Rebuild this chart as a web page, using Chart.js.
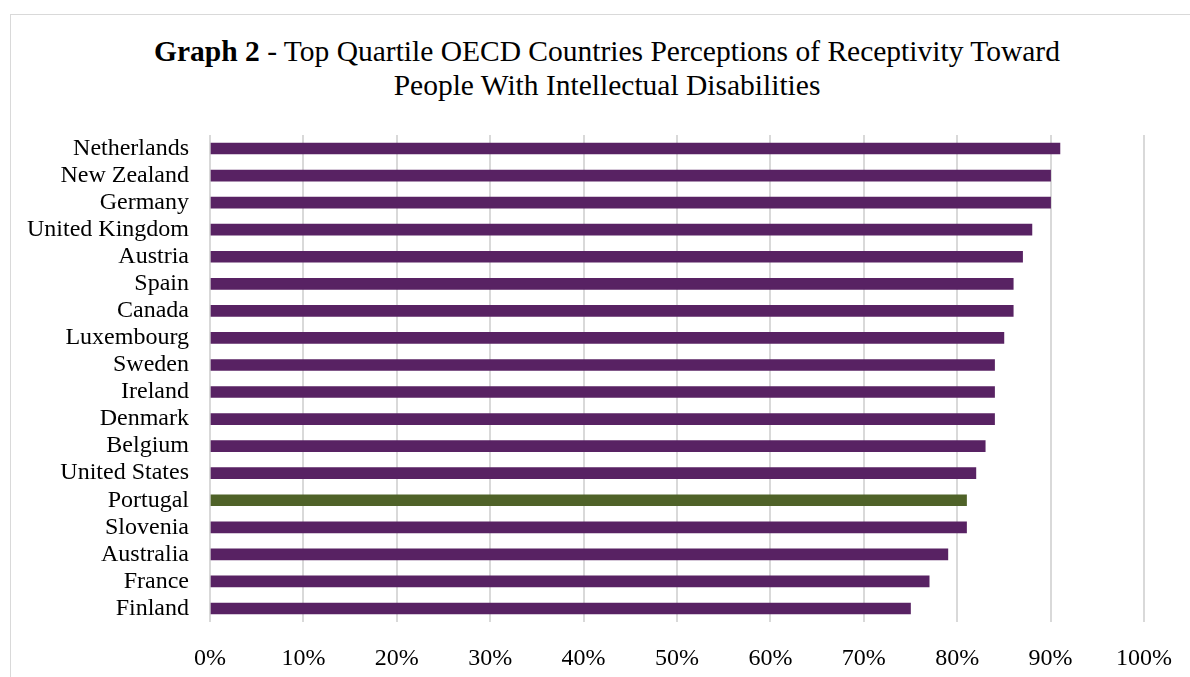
<!DOCTYPE html>
<html>
<head>
<meta charset="utf-8">
<script src="https://cdn.jsdelivr.net/npm/chart.js@4/dist/chart.umd.min.js"></script>
<style>
  body { margin: 0; background: #fff; }
  #wrap { position: relative; width: 1190px; height: 677px; overflow: hidden; }
  #frame { position: absolute; left: 10px; top: 14px; width: 1200px; height: 700px; border: 1px solid #d9d9d9; box-sizing: border-box; }
  #title {
    position: absolute; left: 0; top: 34px; width: 1214px; text-align: center;
    font-family: "Liberation Serif", "Times New Roman", serif; font-size: 29.5px; line-height: 34px; color: #000;
  }
  #myChart { position: absolute; left: 0; top: 0; }
</style>
</head>
<body>
<div id="wrap">
  <div id="frame"></div>
  <div id="title"><b>Graph 2</b> - Top Quartile OECD Countries Perceptions of Receptivity Toward<br>People With Intellectual Disabilities</div>
  <canvas id="myChart" width="1190" height="677"></canvas>
</div>
<script>
const countries = [
    "Netherlands", "New Zealand", "Germany", "United Kingdom", "Austria", "Spain",
    "Canada", "Luxembourg", "Sweden", "Ireland", "Denmark", "Belgium",
    "United States", "Portugal", "Slovenia", "Australia", "France", "Finland"
]

const receptivity = [91, 90, 90, 88, 87, 86, 86, 85, 84, 84, 84, 83, 82, 81, 81, 79, 77, 75]

const xTicks = [0, 10, 20, 30, 40, 50, 60, 70, 80, 90, 100]

// Portugal is picked out in green, the rest stay purple
const highlight = "Portugal"
const barColors = countries.map(c => c === highlight ? '#4f6228' : '#582263')

const serif = '"Liberation Serif", "Times New Roman", serif'

const ctx = document.getElementById('myChart')
new Chart(ctx, {
    type: 'bar',
    data: {
        labels: countries,
        datasets: [{
            data: receptivity,
            backgroundColor: barColors,
            borderWidth: 0,
            barThickness: 11
        }]
    },
    options: {
        indexAxis: 'y',
        responsive: false,
        animation: false,
        layout: {
            padding: { top: 135, right: 46, bottom: 0, left: 0 }
        },
        scales: {
            x: {
                min: 0,
                max: 100,
                afterBuildTicks: scale => {
                    scale.ticks = xTicks.map(v => ({ value: v }))
                },
                afterFit: scale => {
                    // keep the plot edge fixed; the layout padding already leaves room for "100%"
                    scale.height = 677 - 622
                    scale.paddingLeft = 0
                    scale.paddingRight = 0
                },
                ticks: {
                    callback: v => v + '%',
                    color: '#000',
                    padding: 22,
                    maxRotation: 0,
                    font: { family: serif, size: 24 }
                },
                grid: {
                    color: '#d9d9d9',
                    lineWidth: 2,
                    drawTicks: false
                },
                border: { display: false }
            },
            y: {
                afterFit: scale => {
                    scale.width = 210
                },
                ticks: {
                    color: '#000',
                    padding: 21,
                    autoSkip: false,
                    font: { family: serif, size: 24 }
                },
                grid: { display: false, drawTicks: false },
                border: { display: false }
            }
        },
        plugins: {
            legend: { display: false },
            tooltip: { enabled: false }
        }
    }
})
</script>
</body>
</html>
